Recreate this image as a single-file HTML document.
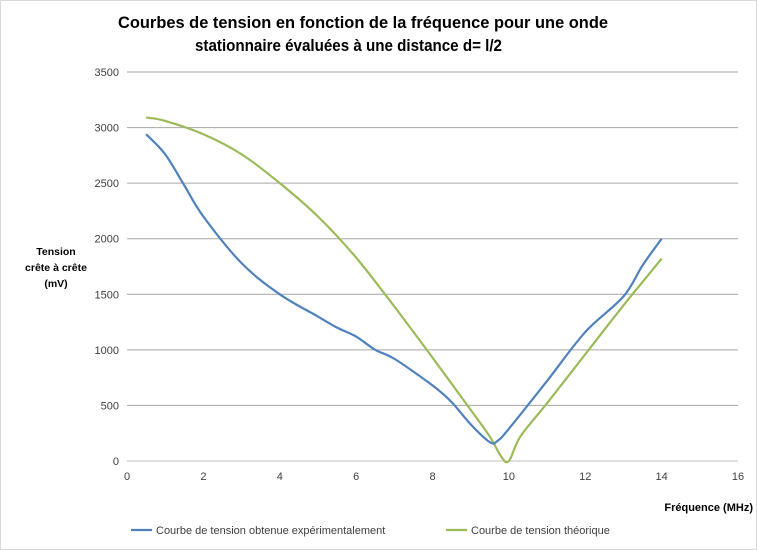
<!DOCTYPE html>
<html><head><meta charset="utf-8"><style>
body{margin:0;background:#fff;font-family:"Liberation Sans",sans-serif}
#c{width:755px;height:548px;border:1px solid #d9d9d9;position:relative}
</style></head><body>
<div id="c">
<svg id="s" width="757" height="550" style="position:absolute;left:-1px;top:-1px"></svg>
</div>
<script>
const xTicks=[0,2,4,6,8,10,12,14,16];
const yTicks=[0,500,1000,1500,2000,2500,3000,3500];
const expX=[0.5,1,1.5,2,3,4,5,5.5,6,6.5,7,8,8.5,9,9.5,9.7,10,11,12,13,13.5,14];
const expY=[2940,2760,2480,2200,1780,1500,1300,1200,1120,1000,920,680,530,330,170,180,290,720,1160,1480,1760,2000];
const thX=[0.5,1,2,3,4,5,6,7,8,9,9.5,9.8,10,10.3,11,12,13,14];
const thY=[3090,3060,2940,2760,2500,2200,1830,1390,930,460,220,40,0,220,520,960,1400,1820];
const NS="http://www.w3.org/2000/svg";
const s=document.getElementById('s');
const X=v=>127+v*(738-127)/16, Y=v=>461-v*(461-72)/3500;
function el(t,a,txt){const e=document.createElementNS(NS,t);for(const k in a)e.setAttribute(k,a[k]);if(txt!=null)e.textContent=txt;s.appendChild(e);return e;}
yTicks.forEach(v=>{
 const l=el('line',{x1:X(0),x2:X(16),y1:Y(v),y2:Y(v),stroke:v===0?'#bfbfbf':'#a6a6a6','stroke-width':1});
 
 
 const t=el('text',{x:X(0)-8,y:Y(v)+4,'text-anchor':'end','font-size':11,fill:'#404040'},v);
 
 
});
xTicks.forEach(v=>{
 const t=el('text',{x:X(v),y:480,'text-anchor':'middle','font-size':11,fill:'#404040'},v);
 
 
});
function path(xs,ys){
 const p=xs.map((x,i)=>[X(x),Y(ys[i])]);let d='M'+p[0][0]+','+p[0][1];
 for(let i=0;i<p.length-1;i++){const p0=p[i-1]||p[i],p1=p[i],p2=p[i+1],p3=p[i+2]||p2;
  d+=` C${p1[0]+(p2[0]-p0[0])/6},${p1[1]+(p2[1]-p0[1])/6} ${p2[0]-(p3[0]-p1[0])/6},${p2[1]-(p3[1]-p1[1])/6} ${p2[0]},${p2[1]}`;}
 return d;}
const g=el('path',{d:path(thX,thY),fill:'none',stroke:'#9bbb59','stroke-width':2.2});


const b=el('path',{d:path(expX,expY),fill:'none',stroke:'#4f81bd','stroke-width':2.2});


let t=el('text',{x:118,y:28,'font-size':17,'font-weight':'bold',fill:'#000',textLength:490,lengthAdjust:'spacingAndGlyphs'},'Courbes de tension en fonction de la fréquence  pour une onde');

t=el('text',{x:195,y:51,'font-size':17,'font-weight':'bold',fill:'#000',textLength:307,lengthAdjust:'spacingAndGlyphs'},'stationnaire évaluées à une distance d= l/2');

[['Tension',255],['crête à crête',271],['(mV)',287]].forEach(([s2,y])=>{
 const e=el('text',{x:56,y:y,'text-anchor':'middle','font-size':10.5,'font-weight':'bold',fill:'#000'},s2);
 });
t=el('text',{x:753,y:511,'text-anchor':'end','font-size':11,'font-weight':'bold',fill:'#000'},'Fréquence (MHz)');

let l=el('line',{x1:131,x2:152,y1:530,y2:530,stroke:'#4f81bd','stroke-width':2.2});

t=el('text',{x:156,y:534,'font-size':11,fill:'#404040'},'Courbe de tension obtenue expérimentalement');

l=el('line',{x1:446,x2:467,y1:530,y2:530,stroke:'#9bbb59','stroke-width':2.2});

t=el('text',{x:471,y:534,'font-size':11,fill:'#404040'},'Courbe de tension théorique');

</script>
</body></html>
